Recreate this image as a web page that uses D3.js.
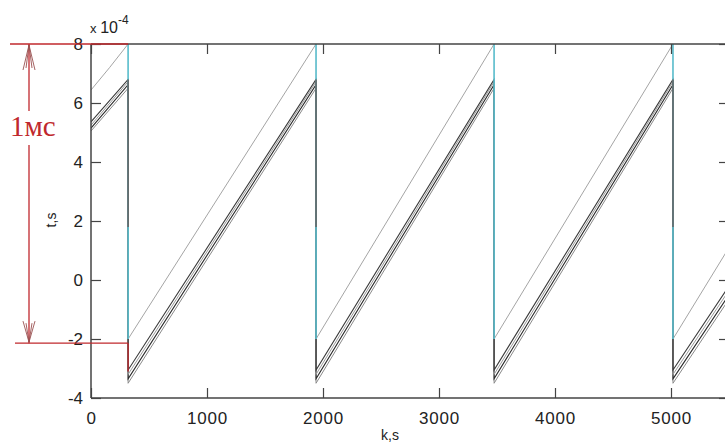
<!DOCTYPE html>
<html>
<head>
<meta charset="utf-8">
<script src="https://cdn.jsdelivr.net/npm/d3@7"></script>
<style>
  html, body { margin: 0; padding: 0; background: #fff; }
  svg { display: block; }
</style>
</head>
<body>
<svg id="chart" width="725" height="443"></svg>
<script>
// ---- data (t values in units of 1e-4 s) ----
const kTicks = [0, 1000, 2000, 3000, 4000, 5000];
const tTicks = [-4, -2, 0, 2, 4, 6, 8];
const jumpK = [320, 1940, 3475, 5017];
const upperTop = 8.0, upperBottom = -2.0;
const grayJumpK = [320, 1940, 5017];
const grayJumpTop = 6.8, grayJumpBottom = 1.8;

const upperLine = [[0,6.44],[160,7.2],[320,8],[320,-2],[1940,8],[1940,-2],[3475,8],[3475,-2],[5017,8],[5017,-2],[5500,1.1]];
const darkA = [[0,5.36],[320,6.8],[320,-3.05],[1940,6.8],[1940,-3.05],[3475,6.8],[3475,-3.05],[5017,6.8],[5017,-3.05],[5500,-0.2]];
const darkB = [[0,5.25],[320,6.72],[320,-3.2],[1940,6.72],[1940,-3.2],[3475,6.72],[3475,-3.2],[5017,6.72],[5017,-3.2],[5500,-0.35]];
const darkC = [[0,5.15],[320,6.62],[320,-3.35],[1940,6.62],[1940,-3.35],[3475,6.62],[3475,-3.35],[5017,6.62],[5017,-3.35],[5500,-0.5]];
const darkD = [[0,5.05],[320,6.5],[320,-3.5],[1940,6.5],[1940,-3.5],[3475,6.5],[3475,-3.5],[5017,6.5],[5017,-3.5],[5500,-0.65]];

const annotTop = 8.0, annotBottom = -2.14, annotRedTail = -3.1;
const annotLabel = "1мс";

// ---- layout ----
const svg = d3.select("#chart");
const x = d3.scaleLinear().domain([0, 5500]).range([91, 729]);
const y = d3.scaleLinear().domain([-4, 8]).range([398, 44]);
const axisColor = "#444";
const fontSans = "'Liberation Sans', Arial, sans-serif";
const fmt = d => String(d);

svg.append("rect").attr("width", 725).attr("height", 443).attr("fill", "#fff");

const clipId = "plotclip";
svg.append("clipPath").attr("id", clipId).append("rect")
  .attr("x", x(0)).attr("y", y(8) - 1).attr("width", x(5500) - x(0)).attr("height", y(-4) - y(8) + 2);

const plot = svg.append("g").attr("clip-path", `url(#${clipId})`);
const line = d3.line().x(d => x(d[0])).y(d => y(d[1]));

// dark bundle (with their vertical drops)
const darkSeries = [
  {data: darkD, color: "#8a8a8a", w: 1},
  {data: darkC, color: "#2a2a2a", w: 1.1},
  {data: darkB, color: "#9a9a9a", w: 1},
  {data: darkA, color: "#3a3a3a", w: 1.1}
];
darkSeries.forEach(s => {
  plot.append("path").attr("d", line(s.data)).attr("fill", "none")
    .attr("stroke", s.color).attr("stroke-width", s.w);
});

// upper thin line ramps (gray)
plot.append("path").attr("d", line(upperLine)).attr("fill", "none")
  .attr("stroke", "#9a9a9a").attr("stroke-width", 0.9);

// cyan jumps of upper line
plot.selectAll("line.cyan").data(jumpK).enter().append("line")
  .attr("x1", d => x(d)).attr("x2", d => x(d))
  .attr("y1", y(upperTop)).attr("y2", y(upperBottom))
  .attr("stroke", "#52c4d6").attr("stroke-width", 1.4);

// gray overlay jumps
plot.selectAll("line.gj").data(grayJumpK).enter().append("line")
  .attr("x1", d => x(d)).attr("x2", d => x(d))
  .attr("y1", y(grayJumpTop)).attr("y2", y(grayJumpBottom))
  .attr("stroke", "#666").attr("stroke-width", 1.6);

// ---- axes box ----
const xL = x(0), xR = x(5500), yT = y(8), yB = y(-4);
svg.append("line").attr("x1", xL).attr("x2", xR).attr("y1", yT).attr("y2", yT).attr("stroke", axisColor).attr("stroke-width", 1.5);
svg.append("line").attr("x1", xL).attr("x2", xR).attr("y1", yB).attr("y2", yB).attr("stroke", axisColor).attr("stroke-width", 1.5);
svg.append("line").attr("x1", xL).attr("x2", xL).attr("y1", yT).attr("y2", yB).attr("stroke", axisColor).attr("stroke-width", 1.5);
svg.append("line").attr("x1", xR).attr("x2", xR).attr("y1", yT).attr("y2", yB).attr("stroke", axisColor).attr("stroke-width", 1.5);

// x ticks (bottom, pointing in) + labels
const xAxisB = d3.axisBottom(x).tickValues(kTicks).tickSize(-10).tickPadding(14).tickFormat(fmt);
const gxb = svg.append("g").attr("transform", `translate(0,${yB})`).call(xAxisB);
gxb.select(".domain").remove();
gxb.selectAll(".tick line").attr("stroke", axisColor).attr("stroke-width", 1.2);
gxb.selectAll(".tick text").attr("font-family", fontSans).attr("font-size", 17).attr("fill", "#222").attr("letter-spacing", 0.8);

const xAxisT = d3.axisTop(x).tickValues(kTicks).tickSize(-10).tickFormat("");
const gxt = svg.append("g").attr("transform", `translate(0,${yT})`).call(xAxisT);
gxt.select(".domain").remove();
gxt.selectAll(".tick line").attr("stroke", axisColor).attr("stroke-width", 1.2);

// y ticks (left, pointing in) + labels
const yAxisL = d3.axisLeft(y).tickValues(tTicks).tickSize(-10).tickPadding(8).tickFormat(fmt);
const gyl = svg.append("g").attr("transform", `translate(${xL},0)`).call(yAxisL);
gyl.select(".domain").remove();
gyl.selectAll(".tick line").attr("stroke", axisColor).attr("stroke-width", 1.2);
gyl.selectAll(".tick text").attr("font-family", fontSans).attr("font-size", 17).attr("fill", "#222");

const yAxisR = d3.axisRight(y).tickValues(tTicks).tickSize(-10).tickFormat("");
const gyr = svg.append("g").attr("transform", `translate(${xR},0)`).call(yAxisR);
gyr.select(".domain").remove();
gyr.selectAll(".tick line").attr("stroke", axisColor).attr("stroke-width", 1.2);

// exponent label
const expo = svg.append("text").attr("x", 90).attr("y", 33).attr("font-family", fontSans).attr("fill", "#222");
expo.append("tspan").attr("font-size", 13).text("x ");
expo.append("tspan").attr("font-size", 16).text("10");
expo.append("tspan").attr("font-size", 12).attr("dy", -9).text("-4");

// axis titles
svg.append("text").attr("transform", "translate(56,220) rotate(-90)")
  .attr("text-anchor", "middle").attr("font-family", fontSans).attr("font-size", 14).attr("fill", "#222").text("t,s");
svg.append("text").attr("x", 390).attr("y", 440)
  .attr("text-anchor", "middle").attr("font-family", fontSans).attr("font-size", 14).attr("fill", "#222").text("k,s");

// ---- red annotation ----
const red = "#c0282d";
const ax = 29;
const xJ = x(jumpK[0]);
svg.append("line").attr("x1", 10).attr("x2", xJ).attr("y1", y(annotTop)).attr("y2", y(annotTop)).attr("stroke", red).attr("stroke-width", 1.3);
svg.append("line").attr("x1", 15).attr("x2", xJ).attr("y1", y(annotBottom)).attr("y2", y(annotBottom)).attr("stroke", red).attr("stroke-width", 1.3);
svg.append("line").attr("x1", xJ).attr("x2", xJ).attr("y1", y(annotBottom)).attr("y2", y(annotRedTail)).attr("stroke", red).attr("stroke-width", 1.3);
svg.append("line").attr("x1", ax).attr("x2", ax).attr("y1", y(annotTop)).attr("y2", y(annotBottom)).attr("stroke", red).attr("stroke-width", 1.3);

// arrowheads (open, double-stroked)
const arrowColor = "#9a5050";
const yTopA = y(annotTop), yBotA = y(annotBottom);
[[-6, 26], [-3, 24], [3, 24], [6, 26]].forEach(([dx, dy]) => {
  svg.append("line").attr("x1", ax).attr("y1", yTopA + 1).attr("x2", ax + dx).attr("y2", yTopA + dy)
    .attr("stroke", arrowColor).attr("stroke-width", 0.9);
  svg.append("line").attr("x1", ax).attr("y1", yBotA - 1).attr("x2", ax + dx).attr("y2", yBotA - dy + 4)
    .attr("stroke", arrowColor).attr("stroke-width", 0.9);
});

// label with white gap
svg.append("rect").attr("x", 10).attr("y", 111).attr("width", 52).attr("height", 34).attr("fill", "#fff");
svg.append("text").attr("x", 10).attr("y", 136).attr("font-family", "'Liberation Serif', 'Times New Roman', serif")
  .attr("font-size", 29).attr("fill", red).text(annotLabel);
</script>
</body>
</html>
